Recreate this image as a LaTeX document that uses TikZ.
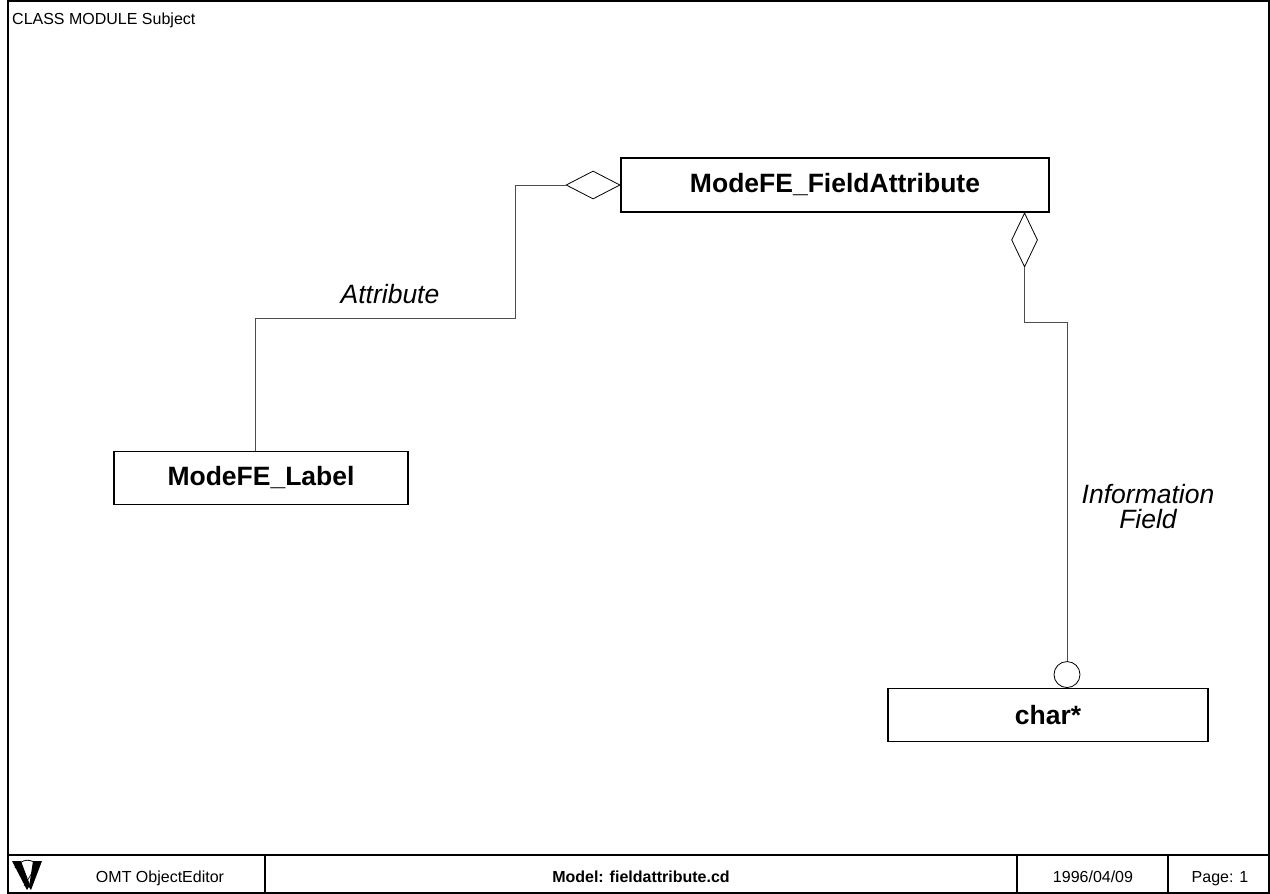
\documentclass[tikz,border=0pt]{standalone}
\usepackage{fontspec}
\setmainfont{Liberation Sans}
\usetikzlibrary{shapes.geometric,calc}
\begin{document}
\begin{tikzpicture}[x=1pt,y=-1pt,line join=miter]
	\tikzset{classbox/.style={draw,line width=1.1pt,inner sep=0pt,font=\fontsize{26.5}{30}\selectfont\bfseries},
		agg/.style={draw,diamond,inner sep=0pt,line width=0.8pt},
		assoc/.style={draw=black!70,line width=0.9pt},
		rolelabel/.style={font=\fontsize{26.5}{25}\selectfont\itshape,align=center,inner sep=0pt},
		footertext/.style={font=\fontsize{16}{18}\selectfont,inner sep=0pt}}
	\useasboundingbox (0,0) rectangle (1270,894);
	% frame and footer
	\draw[line width=1.3pt] (8,1) rectangle (1269,893);
	\draw[line width=1.3pt] (8,855) -- (1269,855);
	\foreach \xd in {265,1017,1168} \draw[line width=1.3pt] (\xd,855) -- (\xd,893);
	\node[footertext,anchor=base west] (title) at (12,24) {CLASS MODULE Subject};
	\fill (12,861) -- (21,861) -- (30,885) -- (27,890) -- cycle;
	\fill (33,861) -- (42,861) -- (31,890) -- (29,887) -- cycle;
	\draw[line width=0.8pt] (15,868) .. controls (22,858) and (32,858) .. (38,866);
	\draw[line width=0.6pt] (24,886) -- (36,866);
	\node[footertext,anchor=base] (tool) at (160,882) {OMT ObjectEditor};
	\node[footertext,anchor=base,font=\fontsize{16}{18}\selectfont\bfseries] (model) at (641,882) {Model: fieldattribute.cd};
	\node[footertext,anchor=base] (date) at (1093,882) {1996/04/09};
	\node[footertext,anchor=base] (page) at (1220,882) {Page: 1};
	% classes
	\node[classbox,minimum width=428pt,minimum height=54pt] (fa) at (835,185) {ModeFE\_FieldAttribute};
	\node[classbox,minimum width=294pt,minimum height=53pt] (lb) at (261,478) {ModeFE\_Label};
	\node[classbox,minimum width=320pt,minimum height=53pt] (ch) at (1048,715) {char*};
	\node[agg,minimum width=54pt,minimum height=28pt,anchor=east] (d1) at (fa.west) {};
	\node[agg,minimum width=26pt,minimum height=54pt,anchor=north] (d2) at ($(fa.south east)+(-25,0)$) {};
	\node[draw,circle,minimum size=26pt,inner sep=0pt,line width=0.8pt,anchor=south] (c1) at ($(ch.north)+(19,0)$) {};
	% associations
	\coordinate (k1) at (515,318);
	\coordinate (k2) at (1067,322);
	\draw[assoc] (d1.west) -| (k1) -| ($(lb.north)+(-6,0)$);
	\draw[assoc] (d2.south) |- (k2) -- (c1.north);
	\node[rolelabel] (lattr) at (390,294) {Attribute};
	\node[rolelabel] (linfo) at (1148,507) {Information\\Field};
\end{tikzpicture}
\end{document}
